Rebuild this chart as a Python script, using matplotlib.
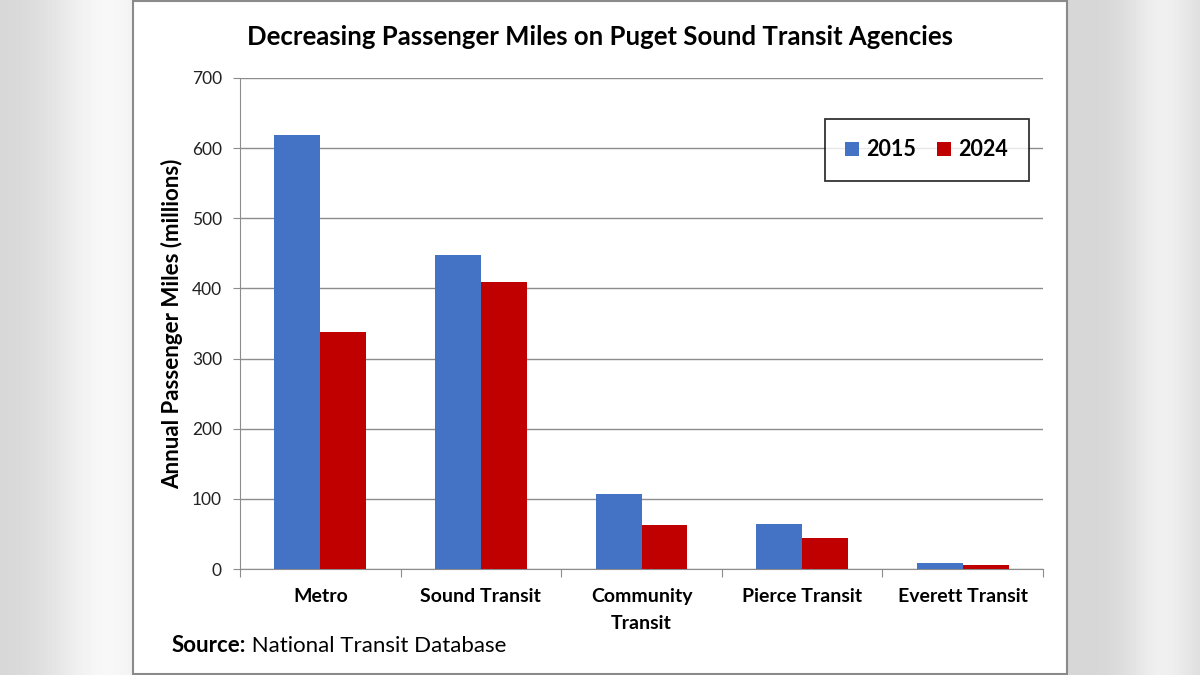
import numpy as np
import matplotlib.pyplot as plt
from matplotlib.patches import Rectangle

plt.rcParams['font.family'] = ['Lato', 'DejaVu Sans']

agencies = ['Metro', 'Sound Transit', 'Community\nTransit', 'Pierce Transit', 'Everett Transit']
miles_2015 = [619, 448, 107, 64, 8]
miles_2024 = [338, 409, 63, 44, 6]
years = ['2015', '2024']
yticks = [0, 100, 200, 300, 400, 500, 600, 700]

BLUE = '#4472C4'
RED = '#C00000'
GRID = '#8c8c8c'

fig = plt.figure(figsize=(12, 6.75), dpi=100)

# brushed-metal looking backdrop on the sides
bg = fig.add_axes([0, 0, 1, 1])
xx = np.linspace(0, 1, 600)
col = 0.84 + 0.13 * np.exp(-((xx - 0.09) / 0.05) ** 2) + 0.10 * np.exp(-((xx - 0.97) / 0.03) ** 2)
img = np.tile(col, (10, 1))
bg.imshow(img, cmap='gray', vmin=0, vmax=1, aspect='auto', extent=[0, 1, 0, 1])
bg.set_xlim(0, 1); bg.set_ylim(0, 1)
bg.axis('off')
# white slide panel
bg.add_patch(Rectangle((133 / 1200, 0.002), 934 / 1200, 0.996, facecolor='white',
                       edgecolor='#8a8a8a', linewidth=1.5))

ax = fig.add_axes([240 / 1200, 1 - 569 / 675, 803 / 1200, 491 / 675])
ax.set_facecolor('none')
x = np.arange(len(agencies))
w = 0.286
ax.bar(x - w / 2, miles_2015, w, color=BLUE, label=years[0], zorder=3)
ax.bar(x + w / 2, miles_2024, w, color=RED, label=years[1], zorder=3)

ax.set_xlim(-0.5, len(agencies) - 0.5)
ax.set_ylim(0, 700)
ax.set_yticks(yticks)
ax.yaxis.grid(True, color=GRID, linewidth=1.0, zorder=0)
ax.set_axisbelow(True)
for s in ['top', 'right']:
    ax.spines[s].set_visible(False)
ax.spines['left'].set_color(GRID)
ax.spines['bottom'].set_color(GRID)

ax.set_xticks(np.arange(-0.5, len(agencies), 1.0))
ax.set_xticklabels([])
ax.set_xticks(x, minor=True)
ax.set_xticklabels(agencies, minor=True, fontsize=14, fontweight='bold', va='top',
                   linespacing=1.65)
ax.tick_params(axis='x', which='major', length=6, color=GRID, direction='out')
ax.tick_params(axis='x', which='minor', length=0, pad=14)
ax.tick_params(axis='y', length=5, color=GRID, labelsize=12.5, pad=8, labelcolor='#222222')

ax.set_ylabel('Annual Passenger Miles (millions)', fontsize=16, fontweight='bold', labelpad=6)

leg = ax.legend(loc='upper right', bbox_to_anchor=(0.982, 0.9165), ncol=2,
                prop={'weight': 'bold', 'size': 15.5}, frameon=True, fancybox=False,
                handlelength=0.65, handleheight=0.65, handletextpad=0.35, columnspacing=0.95,
                borderpad=0.95, borderaxespad=0)
leg.get_frame().set_edgecolor('black')
leg.get_frame().set_linewidth(1.3)

fig.text(0.5, 1 - 37 / 675, 'Decreasing Passenger Miles on Puget Sound Transit Agencies',
         ha='center', va='center', fontsize=18.5, fontweight='bold')

src = fig.text(172 / 1200, 1 - 646 / 675, 'Source:', ha='left', va='center',
               fontsize=16, fontweight='bold')
fig.canvas.draw()
ax.annotate(' National Transit Database', xy=(1, 0.5), xycoords=src,
            ha='left', va='center', fontsize=16)

fig.savefig('out.png', dpi=100)
